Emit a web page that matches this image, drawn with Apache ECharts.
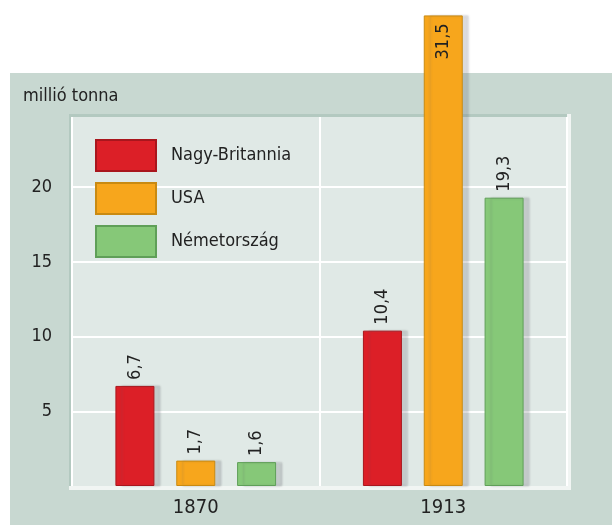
<!DOCTYPE html>
<html>
<head>
<meta charset="utf-8">
<script src="https://cdn.jsdelivr.net/npm/echarts@6/dist/echarts.min.js"></script>
<style>
  html, body { margin: 0; padding: 0; background: #fff; }
  #chart { width: 612px; height: 525px; }
</style>
</head>
<body>
<div id="chart"></div>
<script>
// data
const years = ['1870', '1913'];
const countries = ['Nagy-Britannia', 'USA', 'Németország'];
const britain = [6.7, 10.4];
const usa = [1.7, 31.5];
const germany = [1.6, 19.3];
const yTicks = [5, 10, 15, 20];

const FONT = '"Liberation Sans Narrow", "DejaVu Sans Condensed", "Liberation Sans", sans-serif';

const fills = ['#dc1f27', '#f7a61c', '#86c878'];
const borders = ['#a9161d', '#c98a12', '#5f9f58'];

const comma = v => String(v).replace('.', ',');

// rotated value label; the tallest bar gets it inside, the rest above
const valueLabel = value =>
  value > 24
    ? { show: true, position: 'insideTop', rotate: 90, align: 'right', verticalAlign: 'middle', distance: 8 }
    : { show: true, position: 'top', rotate: 90, align: 'left', verticalAlign: 'middle', distance: 6 };

const makeSeries = (name, values, i) => ({
  name,
  type: 'bar',
  clip: false,
  barWidth: 39,
  barGap: '56%',
  z: 5,
  data: values.map(v => ({ value: v, label: valueLabel(v) })),
  itemStyle: {
    color: fills[i],
    borderColor: borders[i],
    borderWidth: 1,
    shadowColor: 'rgba(90,90,100,0.22)',
    shadowOffsetX: 6,
    shadowBlur: 2,
  },
  label: {
    color: '#222',
    fontFamily: FONT,
    fontSize: 18,
    formatter: p => comma(p.value),
  },
});

const chart = echarts.init(document.getElementById('chart'), null, { renderer: 'canvas' });

const option = {
  animation: false,
  backgroundColor: '#fff',
  title: {
    text: 'millió tonna',
    left: 18,
    top: 82,
    textStyle: { fontFamily: FONT, fontSize: 18, fontWeight: 'normal', color: '#222' },
  },
  graphic: [
    { type: 'rect', z: -10, shape: { x: 10, y: 73, width: 602, height: 452 }, style: { fill: '#c8d8d1' } },
    { type: 'rect', z: -9, shape: { x: 69, y: 114, width: 502, height: 376 }, style: { fill: '#f1f5f3' } },
    { type: 'rect', z: -8, shape: { x: 69, y: 114, width: 498, height: 372 }, style: { fill: '#b3c9c0' } },
  ],
  legend: {
    orient: 'vertical',
    left: 95,
    top: 139,
    padding: 0,
    itemWidth: 60,
    itemHeight: 31,
    itemGap: 10,
    icon: 'rect',
    data: countries,
    textStyle: { fontFamily: FONT, fontSize: 18, color: '#222', padding: [0, 0, 0, 10] },
    itemStyle: { shadowBlur: 0, shadowOffsetX: 0 },
  },
  grid: {
    left: 72,
    right: 45,
    top: 117,
    bottom: 39,
    show: true,
    backgroundColor: '#e0e9e6',
    borderWidth: 0,
  },
  xAxis: {
    type: 'category',
    data: years,
    axisLine: { show: false },
    axisTick: { show: false },
    axisLabel: { fontFamily: FONT, fontSize: 20, color: '#222', margin: 12 },
    splitLine: { show: true, interval: 0, lineStyle: { color: '#ffffff', width: 2 } },
  },
  yAxis: {
    type: 'value',
    min: 0,
    max: 24.7,
    interval: 5,
    axisLine: { show: false },
    axisTick: { show: false },
    axisLabel: {
      fontFamily: FONT,
      fontSize: 18,
      color: '#222',
      margin: 20,
      showMaxLabel: false,
      formatter: v => (yTicks.includes(v) ? String(v) : ''),
    },
    splitLine: { show: true, showMinLine: false, showMaxLine: false, lineStyle: { color: '#ffffff', width: 2 } },
  },
  series: [
    makeSeries(countries[0], britain, 0),
    makeSeries(countries[1], usa, 1),
    makeSeries(countries[2], germany, 2),
  ],
};

chart.setOption(option);
</script>
</body>
</html>
